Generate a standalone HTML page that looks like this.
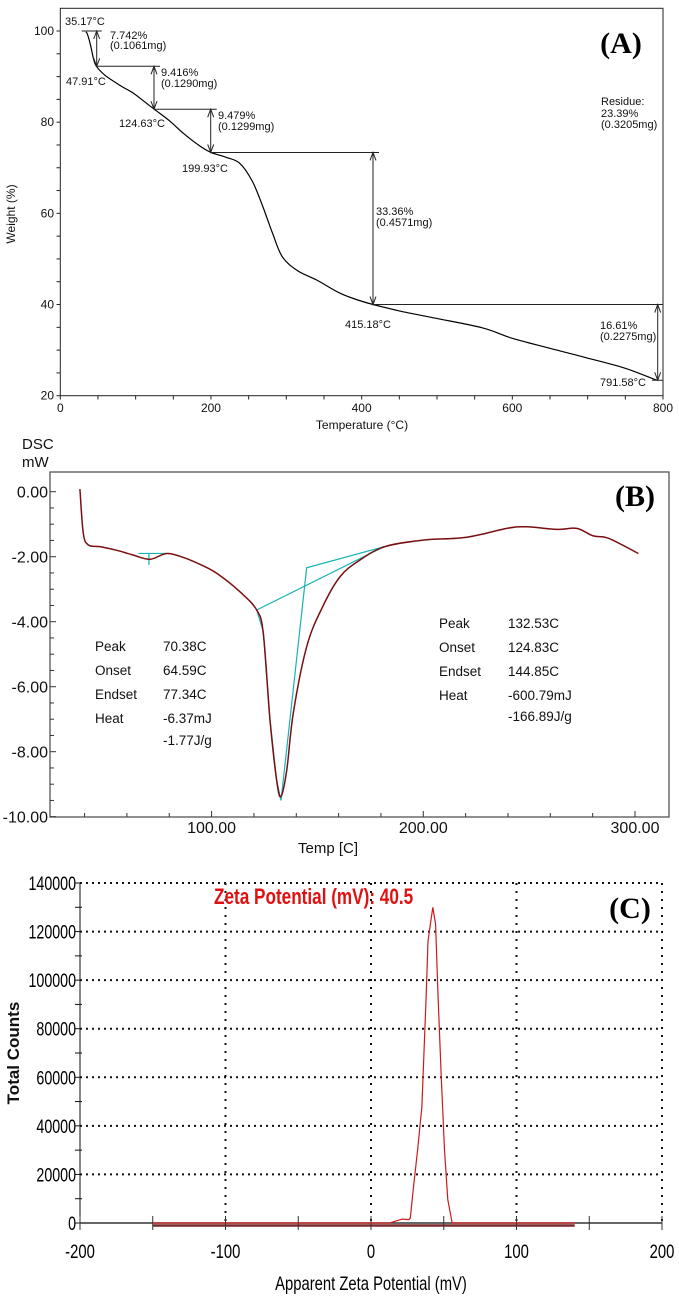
<!DOCTYPE html>
<html><head><meta charset="utf-8"><style>
html,body{margin:0;padding:0;background:#fff;}
svg{display:block;font-family:"Liberation Sans",Arial,sans-serif;}
</style></head><body>
<svg id="fig" width="679" height="1299" viewBox="0 0 679 1299" xmlns="http://www.w3.org/2000/svg">
<g id="pa"></g>
<g id="pb"></g>
<g id="pc"></g>
</svg>
<script>
// ---- Panel A data (TGA) ----
const tgaTemp = [34, 36, 40, 44, 47.91, 60, 80, 96.6, 110, 124.63, 145, 163, 185, 199.93, 220, 238, 255, 269, 282, 295, 315, 340, 371, 395, 415.18, 450, 498, 560, 600, 650, 699, 750, 791.58];
const tgaWeight = [99.8, 99.3, 97.0, 94.0, 92.26, 90.2, 88.0, 86.4, 84.7, 82.84, 80.3, 77.6, 74.8, 73.36, 72.3, 71.0, 67.0, 61.4, 55.5, 50.4, 47.4, 45.4, 42.5, 41.0, 40.0, 38.6, 37.0, 34.9, 32.6, 30.4, 28.3, 26.0, 23.39];
const tgaXTicks = [0, 200, 400, 600, 800];
const tgaYTicks = [20, 40, 60, 80, 100];
// ---- Panel B data (DSC) ----
const dscTemp = [37.8, 39.4, 41.8, 47.3, 55, 63, 70.9, 78.8, 86.6, 95, 102.4, 113.4, 121.3, 124.4, 127.6, 130.7, 132.8, 135.5, 138.6, 144.9, 152, 160.6, 170.1, 181.9, 199.9, 220.5, 239.4, 248.8, 263, 272.5, 280.3, 287.4, 301.6];
const dscMw = [0.08, -1.28, -1.64, -1.69, -1.8, -1.95, -2.08, -1.9, -2.02, -2.25, -2.51, -3.08, -3.64, -4.36, -7.03, -8.87, -9.38, -8.56, -6.81, -4.77, -3.6, -2.62, -2.1, -1.69, -1.49, -1.4, -1.13, -1.08, -1.16, -1.13, -1.36, -1.43, -1.9];
const dscXTicks = [100, 200, 300];
const dscYTicks = [0, -2, -4, -6, -8, -10];
// ---- Panel C data (Zeta) ----
const zetaMv = [-150, 13, 17, 21.5, 26, 27, 29, 32, 35, 38, 39.2, 41, 42.5, 44.4, 46, 48.2, 50.5, 52.8, 55.8, 140];
const zetaCounts = [0, 0, 800, 1600, 1400, 2000, 13700, 30000, 48000, 95000, 116000, 124000, 130000, 123000, 95000, 61600, 30000, 9600, 0, 0];
const zetaXTicks = [-200, -100, 0, 100, 200];
const zetaYTicks = [0, 20000, 40000, 60000, 80000, 100000, 120000, 140000];

const NS = "http://www.w3.org/2000/svg";
function mk(parent, tag, attrs, text) {
  const e = document.createElementNS(NS, tag);
  for (const k in attrs) e.setAttribute(k, attrs[k]);
  if (text !== undefined) e.textContent = text;
  parent.appendChild(e);
  return e;
}
function smooth(pts) {
  let d = 'M' + pts[0][0].toFixed(1) + ',' + pts[0][1].toFixed(1);
  for (let i = 0; i < pts.length - 1; i++) {
    const p0 = pts[Math.max(0, i - 1)], p1 = pts[i], p2 = pts[i + 1], p3 = pts[Math.min(pts.length - 1, i + 2)];
    const c1x = p1[0] + (p2[0] - p0[0]) / 6, c1y = p1[1] + (p2[1] - p0[1]) / 6;
    const c2x = p2[0] - (p3[0] - p1[0]) / 6, c2y = p2[1] - (p3[1] - p1[1]) / 6;
    d += `C${c1x.toFixed(1)},${c1y.toFixed(1)} ${c2x.toFixed(1)},${c2y.toFixed(1)} ${p2[0].toFixed(1)},${p2[1].toFixed(1)}`;
  }
  return d;
}
// ================= Panel A =================
const A = document.getElementById('pa');
const ax = t => 60.3 + t * (663 - 60.3) / 800;
const ay = w => 395.7 - (w - 20) * (395.7 - 31) / 80;
let e;
e = mk(A, 'rect', {x: 60.3, y: 8.3, width: 602.7, height: 387.4, fill: 'none', stroke: '#222', 'stroke-width': 1});
 
for (let t = 0; t <= 800; t += 50) {
  mk(A, 'line', {x1: ax(t), x2: ax(t), y1: 395.7, y2: 399.5, stroke: '#222'});
}
for (let w = 20; w <= 100; w += 5) {
  mk(A, 'line', {x1: 56.5, x2: 60.3, y1: ay(w), y2: ay(w), stroke: '#222'});
}
tgaXTicks.forEach(t => {
  e = mk(A, 'text', {x: ax(t), y: 412, 'font-size': 12, 'text-anchor': 'middle', fill: '#111'}, String(t));
   
});
tgaYTicks.forEach(w => {
  e = mk(A, 'text', {x: 54, y: ay(w) + 4, 'font-size': 12, 'text-anchor': 'end', fill: '#111'}, String(w));
   
});
e = mk(A, 'text', {x: 362, y: 429, 'font-size': 12, 'text-anchor': 'middle', fill: '#111'}, 'Temperature (°C)');
 
e = mk(A, 'text', {x: 0, y: 0, 'font-size': 12, 'text-anchor': 'middle', fill: '#111', transform: 'translate(15,214) rotate(-90)'}, 'Weight (%)');
 
e = mk(A, 'path', {d: smooth(tgaTemp.map((t, i) => [ax(t), ay(tgaWeight[i])])), fill: 'none', stroke: '#000', 'stroke-width': 1.2});
 
// annotations
function hl(x1, x2, y) { mk(A, 'line', {x1: x1, x2: x2, y1: y, y2: y, stroke: '#222', 'stroke-width': 1}); }
function arrow(x, y1, y2) {
  mk(A, 'line', {x1: x, x2: x, y1: y1, y2: y2, stroke: '#222', 'stroke-width': 1});
  mk(A, 'path', {d: `M${x - 3},${y1 + 8}L${x},${y1}L${x + 3},${y1 + 8}M${x - 3},${y2 - 8}L${x},${y2}L${x + 3},${y2 - 8}`, fill: 'none', stroke: '#222'});
}
function lbl(x, y, s, nm) {
  e = mk(A, 'text', {x: x, y: y, 'font-size': 11, fill: '#111'}, s);
   
}
hl(81.7, 101.7, ay(100)); arrow(96.7, ay(100), ay(92.26));
hl(96, 160, ay(92.26)); arrow(154, ay(92.26), ay(82.84));
hl(154, 216.7, ay(82.84)); arrow(210.7, ay(82.84), ay(73.36));
hl(210, 379, ay(73.36)); arrow(373, ay(73.36), ay(40));
hl(373, 663, ay(40)); arrow(657.7, ay(40), ay(23.39));
hl(652, 663, ay(23.39));
lbl(65, 25, '35.17°C', 'onset-temp-label');
lbl(110, 39, '7.742%', 'step1-loss-label'); lbl(110, 49, '(0.1061mg)', 'step1-mass-label');
lbl(66, 85, '47.91°C', 'step1-temp-label');
lbl(161, 76, '9.416%', 'step2-loss-label'); lbl(161, 87, '(0.1290mg)', 'step2-mass-label');
lbl(119, 127, '124.63°C', 'step2-temp-label');
lbl(218, 119, '9.479%', 'step3-loss-label'); lbl(218, 130, '(0.1299mg)', 'step3-mass-label');
lbl(182, 172, '199.93°C', 'step3-temp-label');
lbl(376, 215, '33.36%', 'step4-loss-label'); lbl(376, 226, '(0.4571mg)', 'step4-mass-label');
lbl(345, 328, '415.18°C', 'step4-temp-label');
lbl(600, 329, '16.61%', 'step5-loss-label'); lbl(600, 340, '(0.2275mg)', 'step5-mass-label');
lbl(600, 386, '791.58°C', 'final-temp-label');
lbl(601, 105, 'Residue:', 'residue-label'); lbl(601, 117, '23.39%', 'residue-pct-label'); lbl(601, 128, '(0.3205mg)', 'residue-mass-label');
e = mk(A, 'text', {x: 621, y: 53, 'font-size': 30, 'font-weight': 'bold', 'text-anchor': 'middle', 'font-family': '"Liberation Serif",serif', fill: '#000'}, '(A)');
 

// ================= Panel B =================
const B = document.getElementById('pb');
const bx = t => 211.6 + (t - 100) * 2.117;
const by = v => 491.7 - v * 32.5;
e = mk(B, 'rect', {x: 50, y: 472, width: 619, height: 345, fill: 'none', stroke: '#555', 'stroke-width': 1.3});
 
for (let t = 40; t <= 300; t += 20) {
  mk(B, 'line', {x1: bx(t), x2: bx(t), y1: 817, y2: (t % 100 === 0) ? 811 : 813, stroke: '#333'});
}
for (let v = 0; v >= -10; v -= 0.5) {
  mk(B, 'line', {x1: 50, x2: (Math.abs(v % 2) < 0.01) ? 56 : 54, y1: by(v), y2: by(v), stroke: '#333'});
}
dscXTicks.forEach(t => {
  e = mk(B, 'text', {x: bx(t), y: 833, 'font-size': 16, 'text-anchor': 'middle', fill: '#111'}, t.toFixed(2));
   
});
dscYTicks.forEach(v => {
  e = mk(B, 'text', {x: 48, y: by(v) + 6, 'font-size': 16, 'text-anchor': 'end', fill: '#111'}, v.toFixed(2));
   
});
e = mk(B, 'text', {x: 22, y: 449, 'font-size': 15, fill: '#111'}, 'DSC');
 
e = mk(B, 'text', {x: 22, y: 467, 'font-size': 15, fill: '#111'}, 'mW');
 
e = mk(B, 'text', {x: 328, y: 853, 'font-size': 15, 'text-anchor': 'middle', fill: '#111'}, 'Temp  [C]');
 
const cy = '#17b3b3';
e = mk(B, 'path', {d: `M${bx(65.4)},${by(-1.9)}L${bx(78.8)},${by(-1.9)}M${bx(70.4)},${by(-1.9)}L${bx(70.4)},${by(-2.25)}`, fill: 'none', stroke: cy, 'stroke-width': 1.2});
 
e = mk(B, 'path', {d: `M${bx(121.3)},${by(-3.64)}L${bx(181.5)},${by(-1.69)}M${bx(121.3)},${by(-3.64)}L${bx(124.4)},${by(-4.3)}L${bx(127.6)},${by(-7.03)}L${bx(130.7)},${by(-8.87)}L${bx(132.8)},${by(-9.5)}L${bx(144.9)},${by(-2.34)}L${bx(181.5)},${by(-1.69)}`, fill: 'none', stroke: cy, 'stroke-width': 1.2});
 
e = mk(B, 'path', {d: smooth(dscTemp.map((t, i) => [bx(t), by(dscMw[i])])), fill: 'none', stroke: '#7a0f12', 'stroke-width': 1.5});
 
function blk(x1, x2, ys, labels, vals, nm) {
  labels.forEach((s, i) => { e = mk(B, 'text', {x: x1, y: ys[i], 'font-size': 13.5, fill: '#111'}, s);   });
  vals.forEach((s, i) => { e = mk(B, 'text', {x: x2, y: ys[i], 'font-size': 13.5, fill: '#111'}, s);   });
}
blk(95, 163, [651, 675, 699, 723, 745], ['Peak', 'Onset', 'Endset', 'Heat'], ['70.38C', '64.59C', '77.34C', '-6.37mJ', '-1.77J/g'], 'peak1-info');
blk(439, 508, [628, 652, 676, 700, 721], ['Peak', 'Onset', 'Endset', 'Heat'], ['132.53C', '124.83C', '144.85C', '-600.79mJ', '-166.89J/g'], 'peak2-info');
e = mk(B, 'text', {x: 635, y: 506, 'font-size': 30, 'font-weight': 'bold', 'text-anchor': 'middle', 'font-family': '"Liberation Serif",serif', fill: '#000'}, '(B)');
 

// ================= Panel C =================
const C = document.getElementById('pc');
const cx = m => 80 + (m + 200) * 582 / 400;
const cyy = c => 1223 - c * 340 / 140000;
zetaYTicks.forEach(c => {
  if (c > 0) { e = mk(C, 'line', {x1: 80, x2: 662, y1: cyy(c), y2: cyy(c), stroke: '#111', 'stroke-width': 2, 'stroke-dasharray': '2,4'});   }
});
[-100, 0, 100, 200].forEach(m => {
  e = mk(C, 'line', {x1: cx(m), x2: cx(m), y1: 883, y2: 1223, stroke: '#111', 'stroke-width': 2, 'stroke-dasharray': '2,6'});
   
});
mk(C, 'line', {x1: 80, x2: 80, y1: 883, y2: 1223, stroke: '#111', 'stroke-width': 1});
for (let c = 0; c <= 140000; c += 10000) mk(C, 'line', {x1: 75, x2: 82, y1: cyy(c), y2: cyy(c), stroke: '#111'});
e = mk(C, 'path', {d: `M${cx(-150)},1225.5L${cx(140)},1225.5`, stroke: '#7a2a2a', 'stroke-width': 2.5, fill: 'none'});
 
mk(C, 'line', {x1: 80, x2: 662, y1: 1223, y2: 1223, stroke: '#333', 'stroke-width': 1.5});
for (let m = -200; m <= 200; m += 50) mk(C, 'line', {x1: cx(m), x2: cx(m), y1: 1216, y2: 1230, stroke: '#333', 'stroke-width': 1});
e = mk(C, 'path', {d: zetaMv.map((m, i) => (i ? 'L' : 'M') + cx(m).toFixed(1) + ',' + cyy(zetaCounts[i]).toFixed(1)).join(''), fill: 'none', stroke: '#cc1a1a', 'stroke-width': 1.2});
 
zetaXTicks.forEach(m => {
  e = mk(C, 'text', {x: 0, y: 0, 'font-size': 19, 'text-anchor': 'middle', fill: '#000', transform: `translate(${cx(m)},1258) scale(0.78,1)`}, String(m));
   
});
zetaYTicks.forEach(c => {
  e = mk(C, 'text', {x: 0, y: 0, 'font-size': 19, 'text-anchor': 'end', fill: '#000', transform: `translate(76,${cyy(c) + 7}) scale(0.75,1)`}, String(c));
   
});
e = mk(C, 'text', {x: 0, y: 0, 'font-size': 19, 'text-anchor': 'middle', fill: '#000', transform: 'translate(371,1290) scale(0.78,1)'}, 'Apparent Zeta Potential (mV)');
 
e = mk(C, 'text', {x: 0, y: 0, 'font-size': 17, 'font-weight': 'bold', 'text-anchor': 'middle', fill: '#111', transform: 'translate(19,1053) rotate(-90)'}, 'Total Counts');
 
e = mk(C, 'text', {x: 0, y: 0, 'font-size': 22, 'font-weight': 'bold', fill: '#e01010', transform: 'translate(214,904) scale(0.78,1)'}, 'Zeta Potential (mV):  40.5');
 
e = mk(C, 'text', {x: 630, y: 918, 'font-size': 30, 'font-weight': 'bold', 'text-anchor': 'middle', 'font-family': '"Liberation Serif",serif', fill: '#000'}, '(C)');
 
</script>
</body></html>
